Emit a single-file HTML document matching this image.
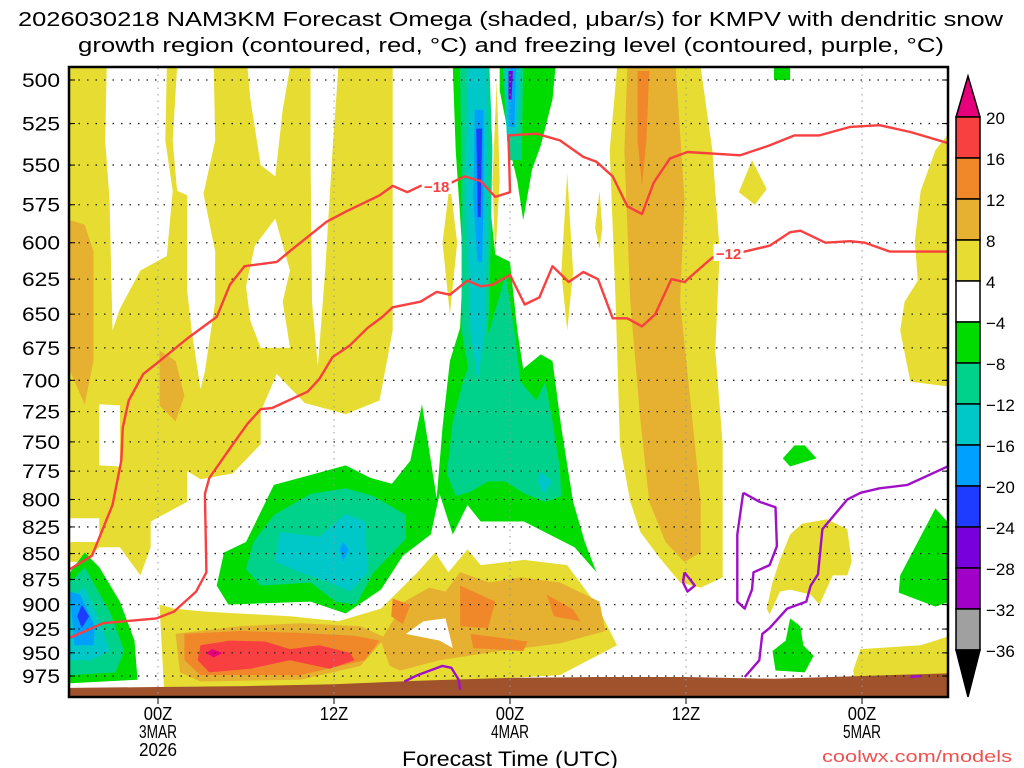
<!DOCTYPE html>
<html><head><meta charset="utf-8"><style>
html,body{margin:0;padding:0;background:#fff;}
svg{display:block;font-family:"Liberation Sans",sans-serif;}
</style></head><body>
<svg id="chart" width="1024" height="768" viewBox="0 0 1024 768" xmlns="http://www.w3.org/2000/svg">
<text x="18" y="26" font-size="20" textLength="985" lengthAdjust="spacingAndGlyphs">2026030218 NAM3KM Forecast Omega (shaded, μbar/s) for KMPV with dendritic snow</text>
<text x="78" y="52" font-size="20" textLength="866" lengthAdjust="spacingAndGlyphs">growth region (contoured, red, °C) and freezing level (contoured, purple, °C)</text>
<defs><clipPath id="plotclip"><rect x="69" y="67" width="879" height="630"/></clipPath></defs>
<g id="fills" clip-path="url(#plotclip)"></g>
<g id="grid"></g>
<g id="lines" clip-path="url(#plotclip)"></g>
<g id="axes"></g>
<g id="cbar"></g>
<text x="510" y="766" font-size="21" text-anchor="middle" textLength="216" lengthAdjust="spacingAndGlyphs">Forecast Time (UTC)</text>
<text x="1012" y="762" font-size="17" fill="#f05050" text-anchor="end" textLength="190" lengthAdjust="spacingAndGlyphs">coolwx.com/models</text>
</svg>
<script>
// ---- axis data ----
const pressureLevels = [500,525,550,575,600,625,650,675,700,725,750,775,800,825,850,875,900,925,950,975];
const timeTickHours = [0,12,24,36,48];
const timeTickLabels = [["00Z","3MAR","2026"],["12Z"],["00Z","4MAR"],["12Z"],["00Z","5MAR"]];
const cbarLevels = [20,16,12,8,4,-4,-8,-12,-16,-20,-24,-28,-32,-36];
const cbarColors = ["#f84040","#f0882a","#e6b030","#e6dc32","#ffffff","#00dc00","#00d28c","#00c8c8","#00a0ff","#1e3cff","#7800dc","#a000c8","#a0a0a0"];
// surface pressure (ground)
const sfcHours = [-6,0,6,12,18,24,30,36,42,48,54];
const sfcPres = [988,987,986,984,980,977,976,976,978,975,972];
// ---- shaded omega regions [hour, hPa] ----
const Y4="#e6dc32",O8="#e6b030",O12="#f0882a",R16="#f84040",P20="#e6007c",W="#ffffff",G4="#00dc00",G8="#00d28c",C12="#00c8c8",B16="#00a0ff",B20="#1e3cff",V24="#7800dc";
const yellowBig = [[-6,493],[16,493],[16,572],[16,662],[15.1,716],[12.8,727],[10,718],[8.1,695],[7,725],[7,752],[5.1,777],[2.9,782],[2,775],[2,802],[-0.5,820],[-0.5,844],[-1.2,871],[-2.6,844],[-4,844],[-5,858],[-6,858]];
const holes = [
 [[-4,719],[-2.6,720],[-2.6,771],[-4,770]],
 [[-6,817],[-4,817],[-4,839],[-6,839]],
 [[-3.5,493],[0.6,493],[0.5,535],[1,566],[0.6,609],[-1.2,619],[-2.6,646],[-3.1,662],[-3.3,572],[-3.6,535]],
 [[1.3,493],[3.8,493],[3.9,535],[3.1,568],[3.9,606],[3.9,641],[3.2,693],[2.9,707],[2.3,662],[2,634],[2,569],[1.3,566],[1,535]],
 [[6.1,493],[9,493],[8.5,517],[8,557],[7,550],[6.3,511]],
 [[8,584],[9,619],[8.5,641],[9,675],[7,675],[6.3,655],[6,630],[6.6,602]],
 [[10.4,493],[12.3,493],[11.9,541],[11.4,619],[10.9,689],[10.5,641],[10.4,541]]
];
const orangeLeft = [[-6,585],[-5,588],[-4.4,606],[-4.4,685],[-5,719],[-6,693]];
const orangeLeft2 = [[0.1,677],[1.2,685],[1.8,712],[1.2,733],[0.1,720]];
const thinYellows = [
 [[19.9,561],[20.4,600],[19.9,650],[19.4,600]],
 [[23.1,500],[23.3,560],[23.0,610],[22.8,560]],
 [[27.9,555],[28.3,620],[27.9,662],[27.5,620]],
 [[30.1,566],[30.3,590],[30.1,604],[29.8,590]]
];
const bandYellow = [[31.3,493],[37,493],[37.8,541],[38.3,606],[38,677],[38.5,752],[38.5,873],[37,883],[35.6,878],[34.2,854],[32.9,830],[32.2,802],[31.5,753],[31.2,641],[30.8,541]];
const bandOrange = [[32,493],[35.3,493],[35.9,572],[35.6,641],[36.3,716],[37,802],[37,849],[35.9,858],[34.6,839],[33.5,802],[32.9,733],[32.2,641],[31.8,541]];
const bandDark = [[32.7,495],[33.5,495],[33.3,535],[33,563],[32.7,535]];
const topGreen = [[42,493],[43.1,493],[43.1,500],[42,500]];
const teardrop = [[40.5,547],[41.5,565],[40.7,575],[39.6,567]];
const rightYellow = [[54,530],[53,541],[52,566],[51.6,599],[51.8,626],[50.9,641],[50.6,662],[51.3,701],[54,705]];
const greenA = [[42.6,764],[43.4,753],[44.1,753],[44.9,764],[43.1,771]];
const yellowA = [[43.9,822],[45.6,818],[47,827],[47.3,858],[47,871],[46,871],[45.1,900],[44.5,890],[43.1,885],[42.4,887],[41.7,910],[41.5,904],[41.9,878],[42.4,856],[43.1,832]];
const greenB = [[43.1,914],[43.8,922],[44,942],[44.7,953],[44.1,971],[42.1,969],[41.9,948],[42.8,937]];
const greenC = [[53,808],[54,823],[54,897],[53,902],[50.5,888],[50.6,871]];
const yellowB = [[47.9,946],[52,942],[54,932],[54,977],[47.5,979],[47.4,969]];
const greenMain = [[20.1,493],[22.5,493],[22.6,572],[23,608],[24,613],[24.5,662],[24.9,691],[26.1,680],[26.9,685],[27.5,738],[28.3,802],[29.1,839],[29.9,868],[28.4,844],[24.95,820],[22,820],[21.1,805],[20.1,832],[19.2,795],[18.6,832],[16.7,852],[15.2,885],[12.8,909],[10.4,897],[4.8,900],[4,881],[4.5,849],[6,839],[7.9,787],[10.8,777],[12.8,770],[14.5,781],[15.95,786],[17.2,766],[18,719],[18.6,766],[19,799],[19.4,738],[19.9,685],[20.6,660],[20.8,613],[20.3,541]];
const greenTopRight = [[23.3,493],[27.1,493],[26.9,511],[26.1,538],[25.5,553],[24.9,585],[24.5,560],[24,541],[23.7,523],[23.3,506]];
const tealLeft = [[7.9,814],[10.4,795],[12.8,790],[14.7,797],[16.9,814],[16.9,836],[14.7,868],[13.5,900],[12.1,897],[10.4,878],[7,881],[6,865],[6.5,839]];
const cyanLeft = [[8.3,830],[11,834],[12.8,813],[14.1,820],[14.3,868],[13.1,887],[11.7,878],[9.7,868],[8,858]];
const blueDot = [[12.6,839],[13,846],[12.6,858],[12.4,846]];
const tealCol = [[20.6,493],[22.6,493],[22.8,541],[22.6,641],[22.4,685],[21.3,701],[20.7,662],[20.7,572]];
const tealLower = [[21.3,685],[22.6,662],[23.7,622],[24.3,662],[24.7,701],[25.8,716],[26.4,701],[26.9,733],[27.4,773],[27.5,797],[26.4,802],[25,795],[23.7,784],[22.5,784],[21.3,793],[20.3,797],[19.7,777],[20.1,733],[20.8,701]];
const cyanSpot = [[26,775],[26.9,784],[26.3,795],[25.9,785]];
const cyanCol = [[21.1,493],[22.4,493],[22.5,572],[22.3,662],[21.8,701],[21.3,662],[21,572]];
const blueCol = [[21.6,517],[22.2,517],[22.2,572],[22.1,613],[21.8,613],[21.5,572]];
const dblueCol = [[21.7,528],[22.1,528],[22,583],[21.8,583]];
const tealCol2 = [[23.5,493],[24.9,493],[24.8,547],[23.9,547]];
const cyanCol2 = [[23.6,493],[24.7,493],[24.5,530],[23.8,535]];
const blueCol2 = [[23.9,493],[24.4,493],[24.3,527],[23.9,527]];
const violetCol2 = [[23.9,495],[24.2,495],[24.1,511],[23.9,511]];
const bandLow = [[0.1,900],[1.1,904],[3.1,907],[9.1,912],[12.3,917],[15.2,904],[17.7,868],[18.9,849],[19.8,868],[21.1,846],[22,861],[24.95,856],[27.9,861],[29.9,900],[31.3,942],[27.4,974],[22,979],[16.6,983],[9.7,986],[0.4,987]];
const lowOrangeL = [[1.2,930],[5.6,922],[9.7,919],[13.8,922],[15.5,934],[13.8,964],[9.7,979],[2.9,981],[1.5,971]];
const lowOrangeR = [[15.2,937],[16.8,897],[18.5,883],[19.6,887],[20.6,868],[22.6,878],[24.7,873],[27.4,878],[30.1,897],[30.5,927],[27.4,940],[23.3,948],[19.2,958],[16.5,969],[15.8,964]];
const lowHole = [[16.9,930],[18.1,917],[19.6,914],[20.1,945],[19.2,937]];
const darkL = [[1.8,930],[5.6,927],[9.7,929],[13.4,932],[15.1,937],[14.1,958],[9.7,974],[2.9,974],[1.8,958]];
const darkR = [
 [[16,894],[17.2,900],[16.7,920],[15.9,912]],
 [[20.6,881],[23,897],[22.5,924],[20.6,922]],
 [[21.3,930],[25.2,938],[24.9,948],[21.5,945]],
 [[26.5,890],[28.3,905],[28.8,917],[27,912]]
];
const redL = [[2.9,942],[4.9,937],[7.3,938],[9,946],[11,942],[13.1,950],[13.4,958],[11.7,967],[9,958],[6.3,967],[3.5,971],[2.7,958]];
const pinkDot = [[3.7,946],[4.4,950],[3.8,955],[3.3,950]];
const blobG = [[-6,868],[-5,849],[-4,863],[-2.6,897],[-1.6,937],[-1.4,979],[-6,983]];
const blobT = [[-6,878],[-5,863],[-3.3,907],[-2.3,948],[-2.9,971],[-6,974]];
const blobC = [[-6,892],[-5,883],[-4,917],[-3.3,948],[-4.6,958],[-6,958]];
const blobB = [[-6,887],[-5.3,890],[-4.3,922],[-4.4,942],[-5.7,942]];
const blobD = [[-5.2,900],[-4.7,912],[-5.2,924],[-5.5,912]];
// ---- contour lines [hour, hPa] ----
const dgzMinus18 = [[-6,865],[-4.5,852],[-3.1,805],[-2.5,766],[-2.4,738],[-2,716],[-1,695],[-0.1,687],[2,668],[4,652],[4.9,629],[5.9,616],[8.1,613],[9.2,604],[11.5,586],[12.9,579],[15.1,569],[16,563],[17,567],[17.9,563],[20,561],[20.9,557],[22,560],[23,570],[24,567],[23.9,532],[25.8,531],[27.4,535],[29,545],[29.9,548],[31,557],[32,576],[33,581],[33.8,561],[34.9,546],[36.1,542],[39.7,544],[41.7,538],[43.4,532],[45.1,532],[47.2,527],[49.2,526],[51.3,530],[54,537]];
const dgzMinus12 = [[-6,934],[-3.75,919],[-0.1,914],[1.1,907],[2.6,887],[3.3,868],[3.2,795],[3.5,781],[5.1,752],[6.1,735],[7,723],[7.8,722],[10.2,709],[11,699],[11.9,682],[13.1,673],[14.3,660],[15.3,652],[16,645],[17.9,641],[19,634],[19.9,636],[21.1,626],[22,630],[22.8,629],[24,622],[25,643],[26,638],[26.9,616],[28,627],[29,620],[30,625],[31,653],[32,653],[33,659],[33.9,650],[35,625],[35.9,627],[37.8,610],[40,606],[41.7,602],[43.1,593],[43.8,592],[45.5,600],[47.2,599],[48.2,600],[49.9,606],[54,606]];
const dgzLabels = [["-18",19.0,563],["-12",38.9,607]];
const frzA = [[16.8,981],[17.7,974],[19.4,964],[20,966],[20.5,979],[20.6,990]];
const frzB = [[40,976],[41,958],[41.2,930],[41.7,924],[42.9,904],[44.2,897],[44.5,881],[45,870],[45.3,827],[47,800],[47.9,794],[49.2,790],[51.1,787],[54,770]];
const frzLoopC = [[39.9,794],[41,802],[42.1,807],[42.2,843],[41.7,861],[40.6,868],[40.5,885],[40,904],[39.5,897],[39.5,832],[39.9,794]];
const frzLoopD = [[35.9,868],[36.6,881],[36.1,887],[35.8,878],[35.9,868]];
const frzE = [[51.3,976],[52,975]];

// ---- axis functions ----
const X = h => 158 + h*14.667;
const Y = p => 80 + 892.5*Math.log(p/500);
const NS="http://www.w3.org/2000/svg";
function mk(tag, parent, attrs){const e=document.createElementNS(NS,tag);for(const k in attrs)e.setAttribute(k,attrs[k]);parent.appendChild(e);return e;}
const pts = arr => arr.map(d=>X(d[0]).toFixed(1)+","+Y(d[1]).toFixed(1)).join(" ");
const fills=document.getElementById("fills");
function poly(arr, color, name){
  const e=mk("polygon",fills,{points:pts(arr),fill:color});
  
  
}
poly(yellowBig,Y4,"omega-4-8-west");
holes.forEach(h=>poly(h,W,"omega-neutral-hole"));
poly(orangeLeft,O8,"omega-8-12-west");
poly(orangeLeft2,O8,"omega-8-12-west-2");
thinYellows.forEach(t=>poly(t,Y4,"omega-4-8-streak"));
poly(bandYellow,Y4,"omega-4-8-band");
poly(bandOrange,O8,"omega-8-12-band");
poly(bandDark,O12,"omega-12-16-band");
poly(topGreen,G4,"omega-neg4-top");
poly(teardrop,Y4,"omega-4-8-teardrop");
poly(rightYellow,Y4,"omega-4-8-east");
poly(greenA,G4,"omega-neg4-east-a");
poly(yellowA,Y4,"omega-4-8-east-a");
poly(greenB,G4,"omega-neg4-east-b");
poly(greenC,G4,"omega-neg4-east-c");
poly(yellowB,Y4,"omega-4-8-east-b");
poly(bandLow,Y4,"omega-4-8-lowlevel");
poly(lowOrangeL,O8,"omega-8-12-lowlevel-west");
poly(lowOrangeR,O8,"omega-8-12-lowlevel-east");
poly(lowHole,W,"omega-neutral-lowlevel-hole");
poly(darkL,O12,"omega-12-16-lowlevel");
darkR.forEach(d=>poly(d,O12,"omega-12-16-cell"));
poly(redL,R16,"omega-16-20-lowlevel");
poly(pinkDot,P20,"omega-over-20");
poly(greenMain,G4,"omega-neg4-main");
poly(greenTopRight,G4,"omega-neg4-upper");
poly(tealLeft,G8,"omega-neg8-west");
poly(cyanLeft,C12,"omega-neg12-west");
poly(blueDot,B16,"omega-neg16-west");
poly(tealCol,G8,"omega-neg8-column");
poly(tealLower,G8,"omega-neg8-lower");
poly(cyanSpot,C12,"omega-neg12-spot");
poly(cyanCol,C12,"omega-neg12-column");
poly(blueCol,B16,"omega-neg16-column");
poly(dblueCol,B20,"omega-neg20-column");
poly(tealCol2,G8,"omega-neg8-column-2");
poly(cyanCol2,C12,"omega-neg12-column-2");
poly(blueCol2,B16,"omega-neg16-column-2");
poly(violetCol2,V24,"omega-neg24-column-2");
poly(blobG,G4,"omega-neg4-sw");
poly(blobT,G8,"omega-neg8-sw");
poly(blobC,C12,"omega-neg12-sw");
poly(blobB,B16,"omega-neg16-sw");
poly(blobD,B20,"omega-neg20-sw");
// ground
const gpts = sfcHours.map((h,i)=>[h,sfcPres[i]]).concat([[54,1010],[-6,1010]]);
const ground=mk("polygon",fills,{points:pts(gpts),fill:"#a0522d"});



// grid
const grid=document.getElementById("grid");
pressureLevels.forEach(p=>{
  const l=mk("line",grid,{x1:70,x2:947,y1:Y(p),y2:Y(p),stroke:"#222","stroke-width":1.3,"stroke-dasharray":"1.5 7"});
  
  
});
timeTickHours.forEach(h=>{
  const l=mk("line",grid,{x1:X(h),x2:X(h),y1:68,y2:696,stroke:"#999","stroke-width":1,"stroke-dasharray":"1.5 5"});
  
  
});

// lines
const lines=document.getElementById("lines");
function pl(arr,color,name){
  const e=mk("polyline",lines,{points:pts(arr),fill:"none",stroke:color,"stroke-width":2.4,"stroke-linejoin":"round"});
  
  
}
pl(dgzMinus18,"#f84040","contour-minus18");
pl(dgzMinus12,"#f84040","contour-minus12");
pl(frzA,"#a010c8","freezing-level-a");
pl(frzB,"#a010c8","freezing-level-b");
pl(frzLoopC,"#a010c8","freezing-level-loop-c");
pl(frzLoopD,"#a010c8","freezing-level-loop-d");
pl(frzE,"#a010c8","freezing-level-e");
dgzLabels.forEach(d=>{
  const r=mk("rect",lines,{x:X(d[1])-15,y:Y(d[2])-9,width:30,height:17,fill:"#fff"});
  
  
  const t=mk("text",lines,{x:X(d[1]),y:Y(d[2])+6,"font-size":15,"font-weight":"bold",fill:"#f84040","text-anchor":"middle"});
  t.textContent=d[0].replace("-","−");
  
  
});

// axes
const axes=document.getElementById("axes");
const fr=mk("rect",axes,{x:69,y:67,width:879,height:630,fill:"none",stroke:"#000","stroke-width":2.5});


pressureLevels.forEach(p=>{
  const t=mk("text",axes,{x:60,y:Y(p)+7,"font-size":19,"text-anchor":"end",textLength:38,lengthAdjust:"spacingAndGlyphs"});
  t.textContent=p;
  
  
  mk("line",axes,{x1:69,x2:75,y1:Y(p),y2:Y(p),stroke:"#000","stroke-width":1});
  mk("line",axes,{x1:942,x2:948,y1:Y(p),y2:Y(p),stroke:"#000","stroke-width":1});
});
timeTickHours.forEach((h,i)=>{
  mk("line",axes,{x1:X(h),x2:X(h),y1:697,y2:704,stroke:"#000","stroke-width":1});
  timeTickLabels[i].forEach((s,j)=>{
    const t=mk("text",axes,{x:X(h),y:720+j*18,"font-size":18,"text-anchor":"middle",textLength:s.length*9.5,lengthAdjust:"spacingAndGlyphs"});
    t.textContent=s;
    
    
  });
});

// colorbar
const cb=document.getElementById("cbar");
const cbTop=117, cbStep=41, cbX=956, cbW=24;
const up=mk("polygon",cb,{points:`${cbX},${cbTop} ${cbX+cbW},${cbTop} ${cbX+cbW/2},76`,fill:"#e6007c",stroke:"#000","stroke-width":1.5});


cbarColors.forEach((c,i)=>{
  const r=mk("rect",cb,{x:cbX,y:cbTop+i*cbStep,width:cbW,height:cbStep,fill:c,stroke:"#000","stroke-width":1.5});
  
  
});
const cbBot=cbTop+cbarColors.length*cbStep;
const dn=mk("polygon",cb,{points:`${cbX},${cbBot} ${cbX+cbW},${cbBot} ${cbX+cbW/2},697`,fill:"#000",stroke:"#000","stroke-width":1.5});


cbarLevels.forEach((v,i)=>{
  const t=mk("text",cb,{x:986,y:cbTop+i*cbStep+7,"font-size":17});
  t.textContent=v<0?"−"+Math.abs(v):String(v);
  
  
});
</script>
</body></html>
